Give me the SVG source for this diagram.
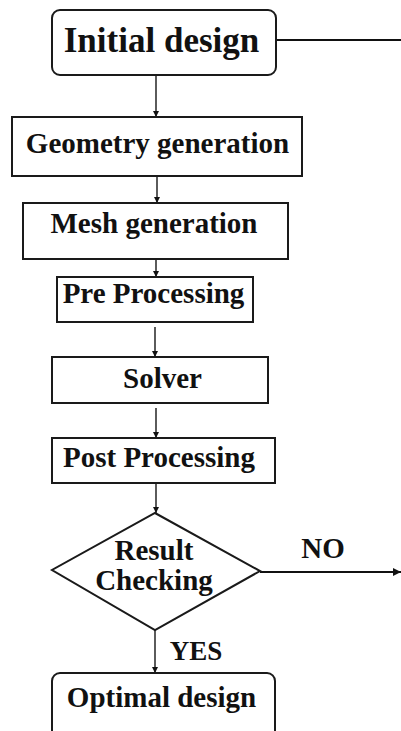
<svg xmlns="http://www.w3.org/2000/svg" width="401" height="731" viewBox="0 0 401 731" font-family="Liberation Serif">
<defs>
<style>
.box{fill:#fff;stroke:#1a1a1a;stroke-width:2}
.t{font-weight:bold;fill:#111;text-anchor:middle;font-size:29px}
.c{stroke:#333;stroke-width:1.6;fill:none}
</style>
<marker id="ah" viewBox="0 0 10 10" refX="10" refY="5" markerWidth="4" markerHeight="4" orient="auto" markerUnits="strokeWidth">
<path d="M0,0 L10,5 L0,10 z" fill="#111"/>
</marker>
</defs>
<rect width="401" height="731" fill="#fff"/>
<g id="connectors">
<line class="c" x1="276" y1="40" x2="401" y2="40" style="stroke:#111;stroke-width:2"/>
<line class="c" x1="156" y1="76" x2="156" y2="117" marker-end="url(#ah)"/>
<line class="c" x1="157" y1="177" x2="157" y2="203" marker-end="url(#ah)"/>
<line class="c" x1="156" y1="260" x2="156" y2="277" marker-end="url(#ah)"/>
<line class="c" x1="155" y1="327" x2="155" y2="357" marker-end="url(#ah)"/>
<line class="c" x1="156" y1="408" x2="156" y2="438" marker-end="url(#ah)"/>
<line class="c" x1="156" y1="484" x2="156" y2="513" marker-end="url(#ah)"/>
<line class="c" x1="155" y1="630" x2="155" y2="673" marker-end="url(#ah)"/>
<line class="c" x1="260" y1="572" x2="401" y2="572" style="stroke:#111;stroke-width:2" marker-end="url(#ah)"/>
<text class="t" x="323" y="558">NO</text>
<text class="t" x="196" y="660" style="font-size:27px">YES</text>
</g>
<g id="initial-design">
<rect class="box" x="52" y="10" width="224" height="65" rx="8"/>
<text class="t" x="161.5" y="52" style="font-size:35px">Initial design</text>
</g>
<g id="geometry-generation">
<rect class="box" x="12" y="117" width="290" height="59"/>
<text class="t" x="157.5" y="153">Geometry generation</text>
</g>
<g id="mesh-generation">
<rect class="box" x="23" y="203" width="265" height="56"/>
<text class="t" x="154" y="233">Mesh generation</text>
</g>
<g id="pre-processing">
<rect class="box" x="57" y="277" width="196" height="45"/>
<text class="t" x="153.5" y="303">Pre Processing</text>
</g>
<g id="solver">
<rect class="box" x="52" y="357" width="216" height="46"/>
<text class="t" x="162.5" y="388">Solver</text>
</g>
<g id="post-processing">
<rect class="box" x="52" y="438" width="223" height="45"/>
<text class="t" x="159" y="467">Post Processing</text>
</g>
<g id="result-checking">
<polygon class="box" points="155,513 260,571 155,630 52,570"/>
<text class="t" x="154" y="560">Result</text>
<text class="t" x="154" y="590">Checking</text>
</g>
<g id="optimal-design">
<rect class="box" x="52" y="673" width="223" height="70" rx="8"/>
<text class="t" x="161.5" y="707">Optimal design</text>
</g>
</svg>
